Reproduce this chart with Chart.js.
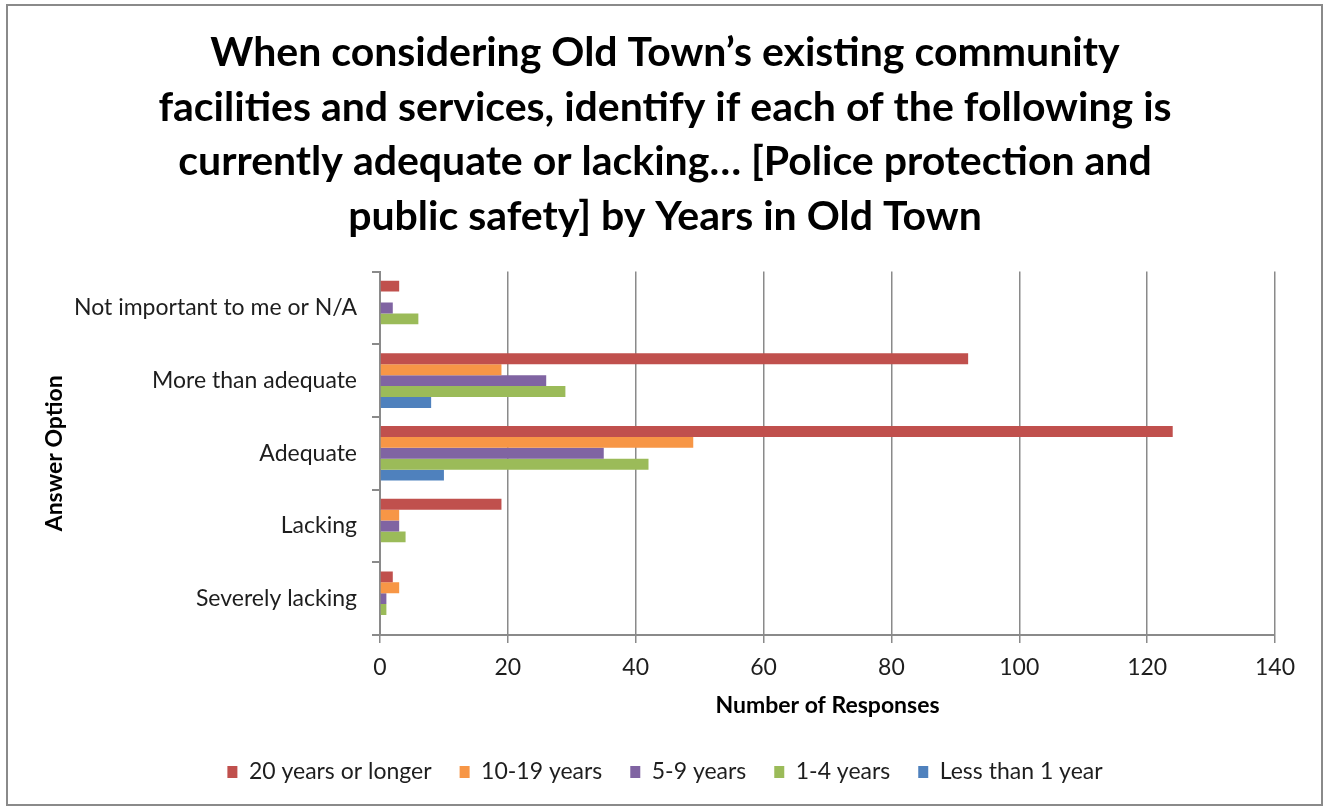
<!DOCTYPE html>
<html>
<head>
<meta charset="utf-8">
<script src="https://cdn.jsdelivr.net/npm/chart.js@4/dist/chart.umd.min.js"></script>
<style>
  html, body { margin: 0; padding: 0; background: #fff; }
  #wrap { position: relative; width: 1328px; height: 808px; }
  #frame {
    position: absolute; left: 6px; top: 4px; width: 1317px; height: 802px;
    box-sizing: border-box; border: 2px solid #8a8a8a; pointer-events: none;
  }
</style>
</head>
<body>
<div id="wrap">
  <canvas id="chartCanvas" width="1328" height="808"></canvas>
  <div id="frame"></div>
</div>
<script>
const categories = [
  'Not important to me or N/A',
  'More than adequate',
  'Adequate',
  'Lacking',
  'Severely lacking'
];

// responses per answer option, one list per length of residence
const years20Plus = [3, 92, 124, 19, 2];
const years10to19 = [0, 19, 49, 3, 3];
const years5to9 = [2, 26, 35, 3, 1];
const years1to4 = [6, 29, 42, 4, 1];
const lessThan1 = [0, 8, 10, 0, 0];

const seriesLabels = ['20 years or longer', '10-19 years', '5-9 years', '1-4 years', 'Less than 1 year'];
const seriesColors = ['#C0504D', '#F79646', '#8064A2', '#9BBB59', '#4F81BD'];
const xTicks = [0, 20, 40, 60, 80, 100, 120, 140];

const titleLines = [
  'When considering Old Town\u2019s existing community',
  'facilities and services, identify if each of the following is',
  'currently adequate or lacking\u2026 [Police protection and',
  'public safety] by Years in Old Town'
];

const axisGray = '#8a8a8a';
const textColor = '#1e1e1e';

const seriesValues = [years20Plus, years10to19, years5to9, years1to4, lessThan1];

// title and legend sit centred on the whole frame, not on the plot box
const frameCenter = 665;
const centerOnFrame = {
  id: 'centerOnFrame',
  afterLayout: (chart) => {
    [chart.titleBlock, chart.legend].forEach(box => {
      if (!box) return;
      const dx = frameCenter - (box.left + box.right) / 2;
      box.left += dx;
      box.right += dx;
    });
  }
};

const data = {
  labels: categories,
  datasets: seriesValues.map((values, i) => ({
    label: seriesLabels[i],
    data: values,
    backgroundColor: seriesColors[i],
    borderWidth: 0,
    categoryPercentage: 0.75,
    barPercentage: 1.0
  }))
};

const config = {
  type: 'bar',
  data: data,
  plugins: [centerOnFrame],
  options: {
    indexAxis: 'y',
    responsive: false,
    animation: false,
    layout: {
      padding: { left: 10, right: 53, top: 0, bottom: 14.5 }
    },
    plugins: {
      title: {
        display: true,
        text: titleLines,
        color: '#000',
        font: { family: 'Lato', size: 41, weight: 'bold', lineHeight: '54.4px' },
        padding: { top: 26, bottom: 28 }
      },
      legend: {
        position: 'bottom',
        labels: {
          color: textColor,
          font: { family: 'Lato', size: 23 },
          boxWidth: 10,
          boxHeight: 12,
          padding: 28
        }
      },
      tooltip: { enabled: false }
    },
    scales: {
      x: {
        min: 0,
        max: 140,
        afterBuildTicks: (scale) => {
          scale.ticks = xTicks.map(v => ({ value: v }));
        },
        afterFit: (scale) => {
          scale.height = 97.5;
        },
        grid: {
          color: axisGray,
          lineWidth: 1.5,
          tickLength: 8
        },
        border: { color: axisGray, width: 2 },
        ticks: {
          color: textColor,
          font: { family: 'Lato', size: 23 },
          padding: 11
        },
        title: {
          display: true,
          text: 'Number of Responses',
          color: '#000',
          font: { family: 'Lato', size: 23, weight: 'bold' },
          padding: { top: 0, bottom: 13.6 }
        }
      },
      y: {
        afterFit: (scale) => {
          scale.width = 370;
        },
        grid: {
          offset: true,
          drawOnChartArea: false,
          color: axisGray,
          lineWidth: 2,
          tickLength: 8
        },
        border: { color: axisGray, width: 2 },
        ticks: {
          color: textColor,
          font: { family: 'Lato', size: 23 },
          padding: 15
        },
        title: {
          display: true,
          text: 'Answer Option',
          color: '#000',
          font: { family: 'Lato', size: 23, weight: 'bold' },
          padding: { top: 31, bottom: 0 }
        }
      }
    }
  }
};

const myChart = new Chart(document.getElementById('chartCanvas'), config);
</script>
</body>
</html>
